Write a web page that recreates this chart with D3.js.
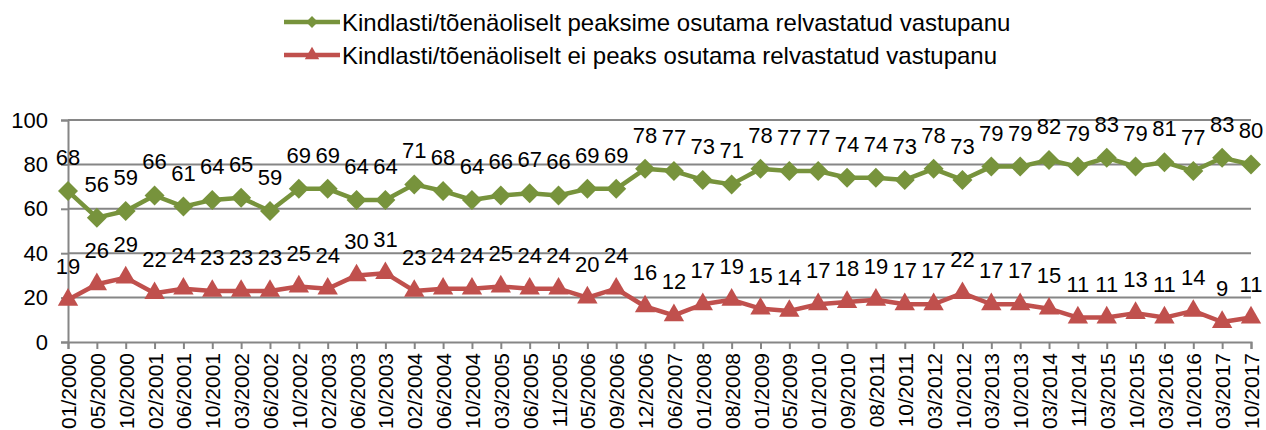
<!DOCTYPE html>
<html>
<head>
<meta charset="utf-8">
<script src="https://cdn.jsdelivr.net/npm/d3@7"></script>
<style>
  body { margin: 0; background: #fff; }
  svg text { font-family: "Liberation Sans", Arial, sans-serif; fill: #000; }
</style>
</head>
<body>
<div id="chart"></div>
<script>
(function() {

	// survey waves
	const dates = ["01/2000","05/2000","10/2000","02/2001","06/2001","10/2001","03/2002","06/2002","10/2002",
		"02/2003","06/2003","10/2003","02/2004","06/2004","10/2004","03/2005","06/2005","11/2005","05/2006",
		"09/2006","12/2006","06/2007","01/2008","08/2008","01/2009","05/2009","01/2010","09/2010","08/2011",
		"10/2011","03/2012","10/2012","03/2013","10/2013","03/2014","11/2014","03/2015","10/2015","03/2016",
		"10/2016","03/2017","10/2017"]

	const shouldResist = [68,56,59,66,61,64,65,59,69,69,64,64,71,68,64,66,67,66,69,69,
		78,77,73,71,78,77,77,74,74,73,78,73,79,79,82,79,83,79,81,77,83,80]

	const shouldNotResist = [19,26,29,22,24,23,23,23,25,24,30,31,23,24,24,25,24,24,20,24,
		16,12,17,19,15,14,17,18,19,17,17,22,17,17,15,11,11,13,11,14,9,11]

	const seriesNames = ["Kindlasti/tõenäoliselt peaksime osutama relvastatud vastupanu",
		"Kindlasti/tõenäoliselt ei peaks osutama relvastatud vastupanu"]

	const yTicks = [0,20,40,60,80,100]

	const W = 1266, H = 430
	const margin = { top: 120, right: 15, bottom: 88, left: 68 }
	const numSize = 22

	let svg = d3.select("#chart").append("svg")
		.attr('width', W)
		.attr('height', H)

	const x = d3.scalePoint()
		.domain(dates)
		.range([margin.left, W - margin.right])

	const y = d3.scaleLinear()
		.domain([0, 100])
		.range([H - margin.bottom, margin.top])

	const grey = "#868686"

	// gridlines
	svg.append('g')
		.selectAll('line')
		.data(yTicks.slice(1))
	  .enter().append('line')
		.attr('x1', margin.left)
		.attr('x2', W - margin.right)
		.attr('y1', d => y(d))
		.attr('y2', d => y(d))
		.style('stroke', grey)
		.style('stroke-width', 2)

	// y axis
	let yAxis = svg.append('g')
		.attr('transform', 'translate(' + margin.left + ',0)')
		.call(d3.axisLeft(y).tickValues(yTicks).tickSize(7).tickPadding(13))
	yAxis.select('.domain').style('stroke', grey).style('stroke-width', 2)
	yAxis.selectAll('.tick line').style('stroke', grey).style('stroke-width', 2)
	yAxis.selectAll('text')
		.attr('font-size', numSize)
		.attr('font-family', '"Liberation Sans", Arial, sans-serif')

	// x axis, labels turned upright
	let xAxis = svg.append('g')
		.attr('transform', 'translate(0,' + (H - margin.bottom) + ')')
		.call(d3.axisBottom(x).tickSize(7).tickSizeOuter(7))
	xAxis.select('.domain').style('stroke', grey).style('stroke-width', 2)
	xAxis.selectAll('.tick line').style('stroke', grey).style('stroke-width', 2)
	xAxis.selectAll('text')
		.attr('font-size', 21)
		.attr('font-family', '"Liberation Sans", Arial, sans-serif')
		.attr('text-anchor', 'end')
		.attr('transform', 'rotate(-90)')
		.attr('x', -11)
		.attr('y', 0)
		.attr('dy', '0.36em')

	const series = [
		{ name: seriesNames[0], values: shouldResist, color: "#77933C", marker: d3.symbolSquare, size: 200, rot: 45, legendSize: 70 },
		{ name: seriesNames[1], values: shouldNotResist, color: "#C0504D", marker: d3.symbolTriangle, size: 180, rot: 0, legendSize: 90 }
	]

	const line = d3.line()
		.x((d, i) => x(dates[i]))
		.y(d => y(d))

	series.forEach(s => {
		let g = svg.append('g')
		g.append('path')
			.attr('d', line(s.values))
			.style('fill', 'none')
			.style('stroke', s.color)
			.style('stroke-width', 4.5)
			.style('stroke-linejoin', 'round')

		g.selectAll('path.mk')
			.data(s.values)
		  .enter().append('path')
			.attr('class', 'mk')
			.attr('d', d3.symbol().type(s.marker).size(s.size))
			.attr('transform', (d, i) => 'translate(' + x(dates[i]) + ',' + y(d) + ') rotate(' + s.rot + ')')
			.style('fill', s.color)

		g.selectAll('text')
			.data(s.values)
		  .enter().append('text')
			.attr('x', (d, i) => x(dates[i]))
			.attr('y', d => y(d) - 26)
			.attr('text-anchor', 'middle')
			.attr('font-size', numSize)
			.text(d => d)
	})

	// legend
	let legend = svg.append('g')
		.selectAll('g')
		.data(series)
	  .enter().append('g')
		.attr('transform', (d, i) => 'translate(284,' + (22 + i * 33) + ')')

	legend.append('line')
		.attr('x1', 0)
		.attr('x2', 56)
		.style('stroke', d => d.color)
		.style('stroke-width', 4.5)

	legend.append('path')
		.attr('d', d => d3.symbol().type(d.marker).size(d.legendSize)())
		.attr('transform', d => 'translate(28,0) rotate(' + d.rot + ')')
		.style('fill', d => d.color)

	legend.append('text')
		.attr('x', 58)
		.attr('dy', '0.36em')
		.attr('font-size', 24)
		.text(d => d.name)

})()
</script>
</body>
</html>
